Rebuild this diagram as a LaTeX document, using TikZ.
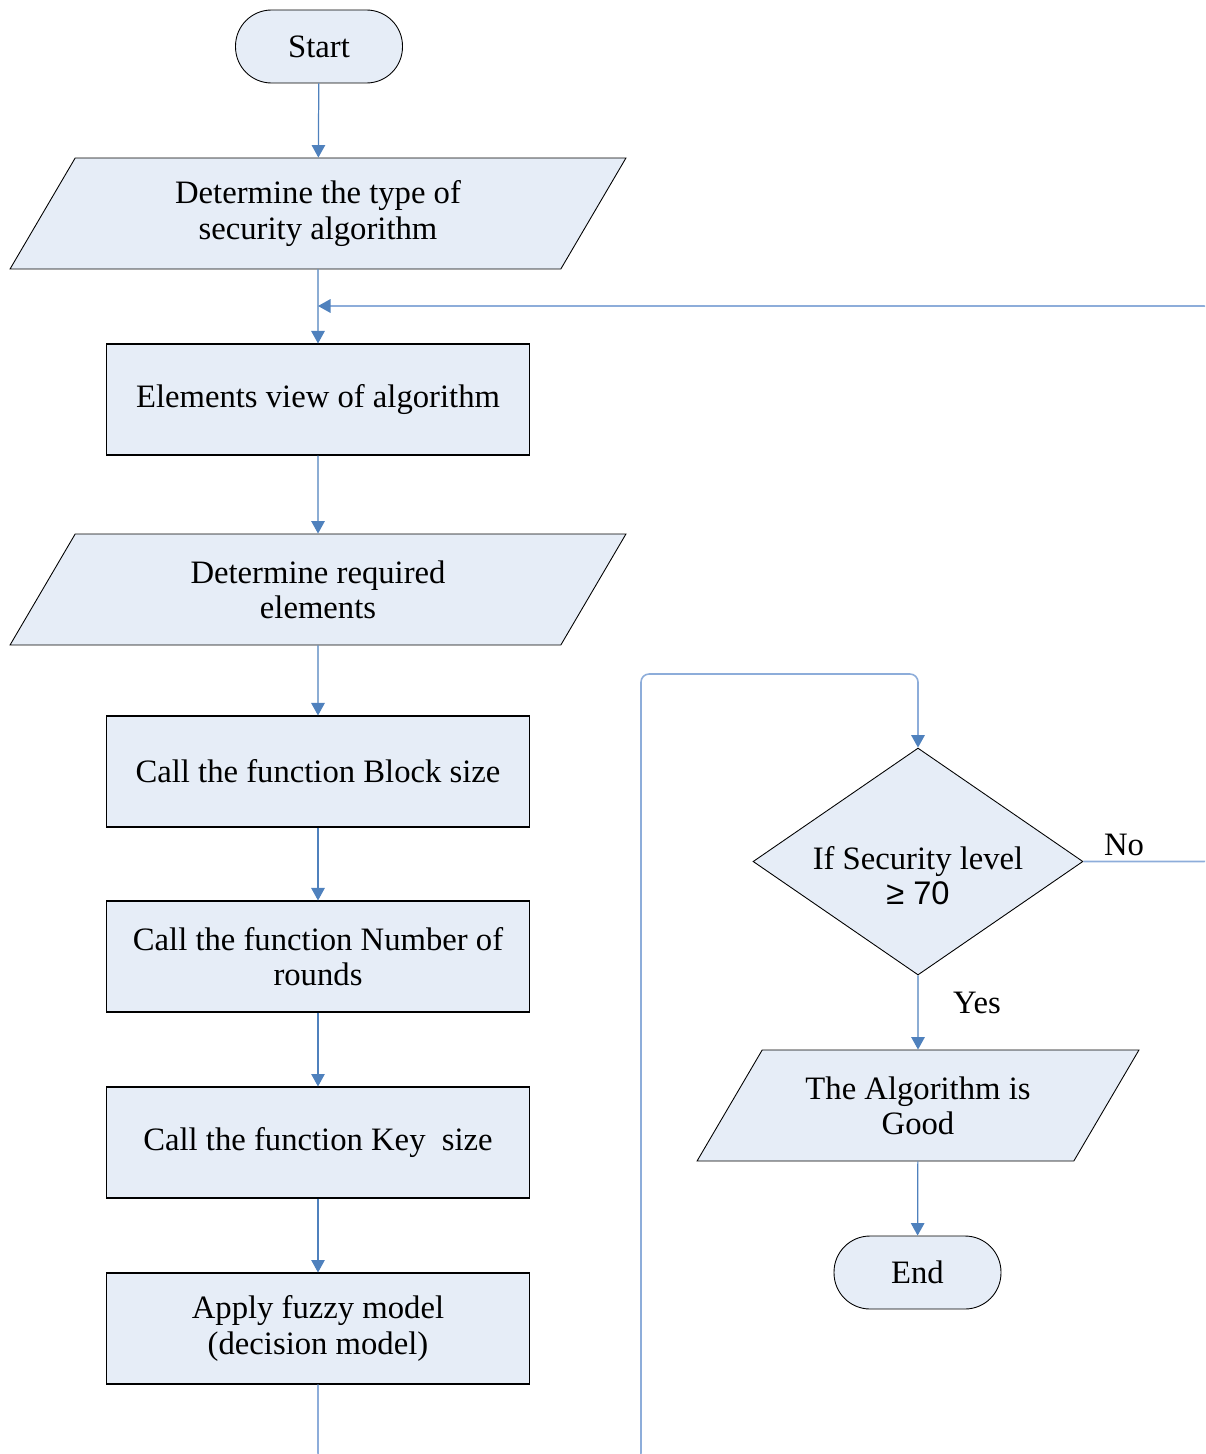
\documentclass[tikz,border=0pt]{standalone}
\usepackage{fontspec}
\setmainfont{Liberation Serif}
\newfontfamily\symfont{Liberation Sans}
\usetikzlibrary{positioning, arrows.meta, shapes.geometric}
\usepackage{xcolor}

\definecolor{boxfill}{RGB}{230,237,247}
\definecolor{flowblue}{RGB}{79,129,189}
\definecolor{loopblue}{RGB}{141,173,218}
\newcommand{\flowfont}{\fontsize{18.6}{20}\selectfont}
% fixed-height text so the slant follows the angles
\newcommand{\iotext}[1]{\parbox[c][1.6cm][c]{6cm}{\centering #1}}

\tikzset{
    procbox/.style={draw=black, line width=0.6pt, fill=boxfill, rectangle,
        minimum width=8.48cm, minimum height=2.22cm, align=center, font=\flowfont},
    iobox/.style={draw=black, line width=0.5pt, fill=boxfill, trapezium,
        trapezium left angle=59.6, trapezium right angle=120.4,
        trapezium stretches body, inner ysep=0.31cm, font=\flowfont},
    termbox/.style={draw=black, line width=0.5pt, fill=boxfill, rectangle,
        rounded corners=0.72cm, minimum width=3.34cm, minimum height=1.46cm, font=\flowfont},
    decbox/.style={draw=black, line width=0.5pt, fill=boxfill, diamond, aspect=1.45,
        inner sep=0pt, minimum width=6.6cm, minimum height=4.54cm},
    flow/.style={draw=flowblue, line width=0.7pt, -{Triangle[length=0.25cm, width=0.27cm]}},
    loopline/.style={draw=loopblue, line width=0.9pt, rounded corners=0.16cm,
        -{Triangle[length=0.25cm, width=0.27cm, color=flowblue]}},
}

\begin{document}
\begin{tikzpicture}[x=0.02cm, y=-0.02cm]
    \useasboundingbox (0,0) rectangle (1205,1454);
    \clip (0,0) rectangle (1205,1454);

    % left column
    \node[termbox] (start) at (319,46.5) {Start};
    \node[iobox, minimum width=12.32cm] (type) at (318,213.5) {\iotext{Determine the type of\\security algorithm}};
    \node[procbox] (elem) at (318,399.5) {Elements view of algorithm};
    \node[iobox, minimum width=12.32cm] (req) at (318,589.5) {\iotext{Determine required\\elements}};
    \node[procbox] (block) at (318,771.5) {Call the function Block size};
    \node[procbox] (rounds) at (318,956.5) {Call the function Number of\\rounds};
    \node[procbox] (keysz) at (318,1142.5) {Call the function Key\ \ size};
    \node[procbox] (fuzzy) at (318,1328.5) {Apply fuzzy model\\(decision model)};

    % right column
    \node[decbox] (dec) at (918,861.5) {};
    \node[font=\flowfont, align=center] (dectext) at ([yshift=-0.28cm]dec.center) {If Security level\\{\symfont ≥ 70}};
    \node[iobox, minimum width=8.7cm] (good) at (918,1105.5) {\iotext{The Algorithm is\\Good}};
    \node[termbox] (stop) at (917.5,1272.5) {End};

    \coordinate (join) at (318,306);

    % straight flow
    \draw[flow] (start) -- (type);
    \draw[flow] (type) -- (elem);
    \draw[flow] (elem) -- (req);
    \draw[flow] (req) -- (block);
    \draw[flow] (block) -- (rounds);
    \draw[flow] (rounds) -- (keysz);
    \draw[flow] (keysz) -- (fuzzy);
    \draw[flow] (dec) -- (good);
    \draw[flow] (good) -- (stop);

    % loops
    \draw[loopline] (fuzzy.south) -- (318,1461) -- (641,1461) -- (641,674) -- (918,674) -- (dec.north);
    \draw[loopline] (dec.east) -- (1212,861.5) -- (1212,306) -- (join);

    \node[font=\flowfont] (nolbl) at (1124,845) {No};
    \node[font=\flowfont] (yeslbl) at (977,1003) {Yes};
\end{tikzpicture}
\end{document}
